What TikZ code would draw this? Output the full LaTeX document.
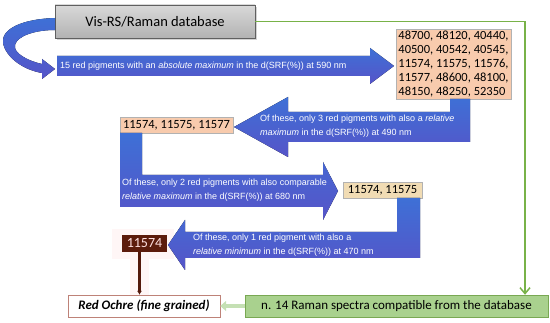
\documentclass[tikz,border=0pt]{standalone}
\usepackage{fontspec}
\setmainfont{Carlito}
\newfontfamily\arialfont{Liberation Sans}
\usetikzlibrary{positioning,arrows.meta,calc,shadows}
\definecolor{bandtop}{RGB}{62,112,214}
\definecolor{bandbot}{RGB}{86,84,200}
\definecolor{peach}{RGB}{248,203,173}
\definecolor{numtan}{RGB}{241,220,180}
\definecolor{leaf}{RGB}{120,178,72}
\definecolor{leaffill}{RGB}{169,209,142}
\definecolor{leaflight}{RGB}{197,224,180}
\definecolor{resdark}{RGB}{92,28,12}
\definecolor{ochreline}{RGB}{190,130,120}
\tikzset{
  dbbox/.style   ={draw=gray!75!black, top color=gray!30, bottom color=gray!60, minimum width=200pt, minimum height=33pt, font=\fontsize{14.5}{16}\selectfont, drop shadow={opacity=0.35}},
  numbox/.style  ={draw=gray!60, fill=peach, align=left, inner sep=2pt, font=\fontsize{12.5}{14}\selectfont},
  resbox/.style  ={fill=resdark, text={rgb,255:red,255;green,225;blue,225}, inner sep=1pt, minimum width=45pt, minimum height=17pt, font=\fontsize{14}{16}\selectfont},
  ochrebox/.style={draw=ochreline, fill=white, minimum width=152pt, minimum height=22pt, font=\bfseries\itshape\fontsize{13}{15}\selectfont},
  gbox/.style    ={draw=leaf!80!gray, fill=leaffill, minimum width=303pt, minimum height=22pt, font=\fontsize{13}{15}\selectfont},
  band/.style    ={top color=bandtop, bottom color=bandbot, draw=none},
  bandtxt/.style ={text=white, align=left, anchor=west, inner sep=0pt, font=\arialfont\fontsize{9}{14}\selectfont},
  link/.style    ={draw=leaf, line width=1.5pt, -{Straight Barb[length=6pt,width=10pt]}},
  greenarr/.style={draw=leaflight, line width=4pt, -{Triangle[length=6pt,width=10pt]}},
  brownarr/.style={draw=resdark!90!black, line width=2.5pt, -{Latex[length=4pt,width=5pt]}},
}
\begin{document}
\begin{tikzpicture}[x=1pt, y=-1pt]
  \useasboundingbox (0,0) rectangle (550,323);
  % glow behind the result
  \fill[pink!15] (112,229) rectangle (174,259);
  \fill[pink!15] (130,259) rectangle (149,298);

  % boxes
  \node[dbbox]   (db)    at (155,21.5) {Vis-RS/Raman database};
  \node[numbox, minimum width=115pt, minimum height=69pt] (fifteen) at (453.5,64.5)
       {48700, 48120, 40440,\\40500, 40542, 40545,\\11574, 11575, 11576,\\11577, 48600, 48100,\\48150, 48250, 52350};
  \node[numbox, minimum width=113pt, minimum height=16pt] (three) at (176.5,125) {11574, 11575, 11577};
  \node[numbox, fill=numtan, minimum width=79pt, minimum height=16pt] (two) at (382.5,190) {11574, 11575};
  \node[resbox]  (res)   at (144.5,243.5) {11574};
  \node[ochrebox] (ochre) at (144,306) {Red Ochre (fine grained)};
  \node[gbox]    (raman) at (396.5,306) {n. 14 Raman spectra compatible from the database};

  % curved arrow out of the database
  \fill[band] (55,18) .. controls (22,19) and (1,29) .. (3,43)
       .. controls (6,58) and (24,70) .. (42,73) -- (42,79) -- (55,69) -- (42,59) -- (42,64)
       .. controls (28,61) and (13,53) .. (15,45) .. controls (17,36) and (35,30) .. (55,30) -- cycle;

  % step 1: absolute maximum
  \fill[band] (57,56) -- (370,56) -- (370,48) -- (394,66) -- (370,84) -- (370,76) -- (57,76) -- cycle;
  \node[bandtxt] (t590) at (60,66) {15 red pigments with an \textit{absolute maximum} in the d(SRF(\%)) at 590 nm};

  % step 2: relative maximum at 490 nm
  \fill[band] (450,99) -- (470,99) -- (470,142) -- (288,142) -- (288,157) -- (234,127)
       -- (288,97) -- (288,112) -- (450,112) -- cycle;
  \node[bandtxt] (t490) at (260,126.5) {Of these, only 3 red pigments with also a \textit{relative}\\\textit{maximum} in the d(SRF(\%)) at 490 nm};

  % step 3: comparable relative maximum at 680 nm
  \fill[band] (120,133) -- (142,133) -- (142,175) -- (323,175) -- (323,162) -- (338,191)
       -- (323,220) -- (323,207) -- (120,207) -- cycle;
  \node[bandtxt] (t680) at (122,190.5) {Of these, only 2 red pigments with also comparable\\\textit{relative maximum} in the d(SRF(\%)) at 680 nm};

  % step 4: relative minimum at 470 nm
  \fill[band] (397,198) -- (420,198) -- (420,258) -- (185,258) -- (185,270) -- (168,245)
       -- (185,220) -- (185,232) -- (397,232) -- cycle;
  \node[bandtxt] (t470) at (193,245) {Of these, only 1 red pigment with also a\\\textit{relative minimum} in the d(SRF(\%)) at 470 nm};

  % connectors
  \coordinate (gturn) at (525,21.5);
  \draw[link] (db.east) -- (gturn) -- (gturn |- raman.north);
  \draw[greenarr] (raman.west) -- (ochre.east);
  \draw[brownarr] ([xshift=-5pt]res.south) -- ([xshift=-5pt]res.south |- ochre.north);
\end{tikzpicture}
\end{document}
